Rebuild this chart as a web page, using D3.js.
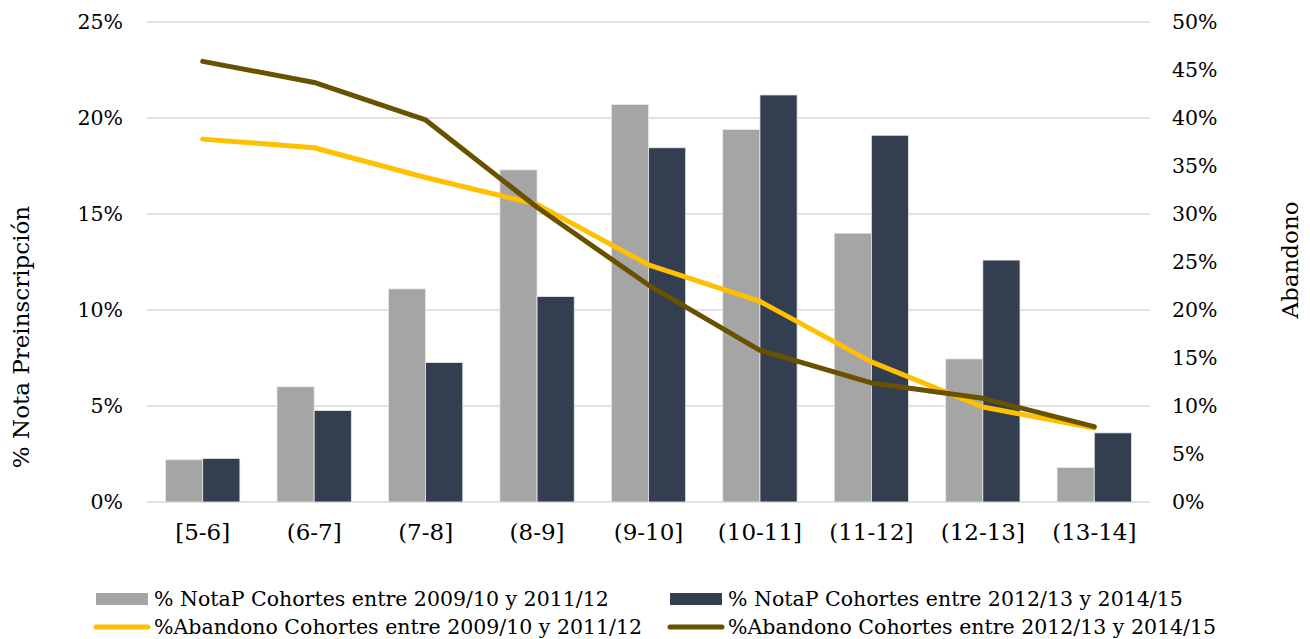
<!DOCTYPE html>
<html>
<head>
<meta charset="utf-8">
<script src="https://cdn.jsdelivr.net/npm/d3@7"></script>
<style>
  body { margin: 0; background: #fff; }
  text { font-family: "DejaVu Serif", serif; fill: #000; }
</style>
</head>
<body>
<div id="chart"></div>
<script>
// categories and series (values in %)
var categories = ["[5-6]", "(6-7]", "(7-8]", "(8-9]", "(9-10]", "(10-11]", "(11-12]", "(12-13]", "(13-14]"];
var notaOld = [2.2, 6.0, 11.1, 17.3, 20.7, 19.4, 14.0, 7.45, 1.8];
var notaNew = [2.27, 4.76, 7.26, 10.7, 18.45, 21.2, 19.1, 12.6, 3.6];
var abandOld = [37.8, 36.9, 33.8, 31.0, 24.7, 20.9, 14.6, 9.9, 7.7];
var abandNew = [45.9, 43.7, 39.8, 30.7, 22.6, 15.8, 12.4, 10.8, 7.85];
var leftTicks = [0, 5, 10, 15, 20, 25];
var rightTicks = [0, 5, 10, 15, 20, 25, 30, 35, 40, 45, 50];
var legendNames = ["% NotaP Cohortes entre 2009/10 y 2011/12", "% NotaP Cohortes entre 2012/13 y 2014/15",
                   "%Abandono Cohortes entre 2009/10 y 2011/12", "%Abandono Cohortes entre 2012/13 y 2014/15"];

var colGray = "#a5a5a5", colDark = "#333f50", colYellow = "#ffc000", colBrown = "#6a5100";

var W = 1310, H = 639;
var margin = {top: 22, left: 147, right: 160, bottom: 137};
var width = W - margin.left - margin.right;
var height = H - margin.top - margin.bottom;

var svg = d3.select('#chart').append('svg')
    .attr('width', W).attr('height', H);
var g = svg.append('g').attr('transform', 'translate(' + margin.left + ',' + margin.top + ')');

var x = d3.scaleBand().domain(categories).range([0, width]).paddingInner(0.333).paddingOuter(0.1665);
var x1 = d3.scaleBand().domain([0, 1]).range([0, x.bandwidth()]);
var yL = d3.scaleLinear().domain([0, 25]).range([height, 0]);
var yR = d3.scaleLinear().domain([0, 50]).range([height, 0]);

// gridlines
g.append('g').selectAll('line').data(leftTicks).enter().append('line')
    .attr('x1', 0).attr('x2', width)
    .attr('y1', function(d){ return yL(d); }).attr('y2', function(d){ return yL(d); })
    .attr('stroke', '#d9d9d9').attr('stroke-width', 1.5);

// left axis
var axL = g.append('g').call(d3.axisLeft(yL).tickValues(leftTicks).tickSize(0).tickPadding(24)
    .tickFormat(function(d){ return d + '%'; }));
axL.select('.domain').remove();
axL.selectAll('text').attr('font-size', 20.5).attr('font-family', '"DejaVu Serif", serif').attr('fill', '#000');

// right axis
var axR = g.append('g').attr('transform', 'translate(' + width + ',0)')
    .call(d3.axisRight(yR).tickValues(rightTicks).tickSize(0).tickPadding(22)
    .tickFormat(function(d){ return d + '%'; }));
axR.select('.domain').remove();
axR.selectAll('text').attr('font-size', 20.5).attr('font-family', '"DejaVu Serif", serif').attr('fill', '#000');

// bottom axis labels
var axB = g.append('g').attr('transform', 'translate(0,' + height + ')')
    .call(d3.axisBottom(x).tickSize(0).tickPadding(22));
axB.select('.domain').remove();
axB.selectAll('text').attr('font-size', 23).attr('font-family', '"DejaVu Serif", serif').attr('fill', '#000');

// bars
var series = [notaOld, notaNew];
var barColors = [colGray, colDark];
series.forEach(function(vals, si){
    g.append('g').selectAll('rect').data(vals).enter().append('rect')
        .attr('x', function(d, i){ return x(categories[i]) + x1(si); })
        .attr('y', function(d){ return yL(d); })
        .attr('width', x1.bandwidth())
        .attr('height', function(d){ return height - yL(d); })
        .attr('fill', barColors[si])
        .attr('stroke', '#e8e8e8').attr('stroke-width', 0.8);
});

// lines
var line = d3.line()
    .x(function(d, i){ return x(categories[i]) + x.bandwidth() / 2; })
    .y(function(d){ return yR(d); });
[[abandOld, colYellow], [abandNew, colBrown]].forEach(function(s){
    g.append('path').datum(s[0])
        .attr('d', line)
        .attr('fill', 'none')
        .attr('stroke', s[1])
        .attr('stroke-width', 5)
        .attr('stroke-linecap', 'round')
        .attr('stroke-linejoin', 'round');
});

// axis titles
svg.append('text')
    .attr('transform', 'translate(29,337) rotate(-90)')
    .attr('text-anchor', 'middle')
    .attr('font-size', 23)
    .text('% Nota Preinscripción');
svg.append('text')
    .attr('transform', 'translate(1298,260) rotate(-90)')
    .attr('text-anchor', 'middle')
    .attr('font-size', 23)
    .text('Abandono');

// legend
var legPos = [[96, 599], [670, 599], [96, 627], [670, 627]];
var legendG = svg.append('g');
legendNames.forEach(function(name, i){
    var p = legPos[i];
    if (i < 2) {
        legendG.append('rect').attr('x', p[0]).attr('y', p[1] - 6).attr('width', 52).attr('height', 12)
            .attr('fill', barColors[i]);
    } else {
        legendG.append('line').attr('x1', p[0]).attr('x2', p[0] + 52).attr('y1', p[1]).attr('y2', p[1])
            .attr('stroke', i === 2 ? colYellow : colBrown).attr('stroke-width', 5)
            .attr('stroke-linecap', 'round');
    }
    legendG.append('text').attr('x', p[0] + 58).attr('y', p[1]).attr('dy', '0.35em')
        .attr('font-size', 20.5).text(name);
});
</script>
</body>
</html>
